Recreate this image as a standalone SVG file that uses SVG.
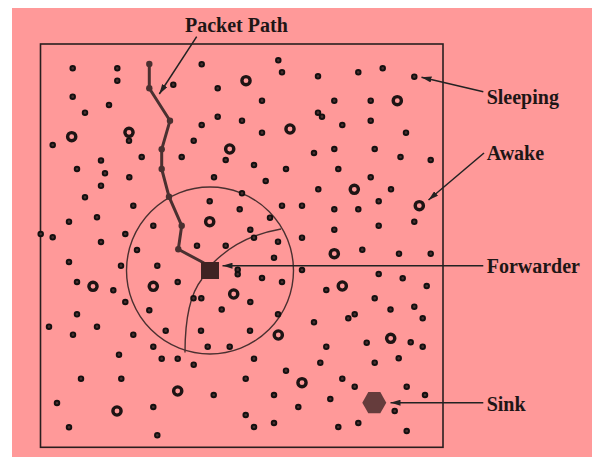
<svg xmlns="http://www.w3.org/2000/svg" width="592" height="457" viewBox="0 0 592 457">
<style>
.s{fill:#4a3030;stroke:#141010;stroke-width:1.9}
.a{fill:none;stroke:#1e1414;stroke-width:3.4}
.lbl{font-family:"Liberation Serif","Times New Roman",serif;font-weight:bold;font-size:20px;fill:#1e1616}
.ptr{stroke:#222;stroke-width:1.5;fill:none}
.pn{fill:#4a3030}
.bd{fill:none;stroke:#4a3030;stroke-width:1.4}
</style>
<defs>
<marker id="ah" viewBox="0 0 10 6" refX="10" refY="3" markerWidth="10" markerHeight="6" markerUnits="userSpaceOnUse" orient="auto">
<path d="M0,0 L10,3 L0,6 Z" fill="#222"/>
</marker>
</defs>
<rect x="0" y="0" width="592" height="457" fill="#ffffff"/>
<rect x="12" y="8" width="580" height="449" fill="#ff9999"/>
<rect x="40.5" y="44" width="402.5" height="403.3" fill="none" stroke="#2a1e1e" stroke-width="1.6"/>
<g id="range">
<circle class="bd" cx="210" cy="270.5" r="83.5"/>
<path class="bd" d="M213,263 Q240,236 281,229"/>
<path class="bd" d="M202,279 Q185,300 185,352.5"/>
</g>
<g id="connectors">
<path d="M149.3,64 L149.3,88.3 L170,120.7 L161.7,149.3 L161.7,169 L169,196.7 L181.7,225.7 L178.3,249.3 L204,263" fill="none" stroke="#4a3030" stroke-width="3" stroke-linejoin="round"/>
<circle class="pn" cx="149.3" cy="64" r="3.2"/>
<circle class="pn" cx="149.3" cy="88.3" r="3.2"/>
<circle class="pn" cx="170" cy="120.7" r="3.2"/>
<circle class="pn" cx="161.7" cy="149.3" r="3.2"/>
<circle class="pn" cx="161.7" cy="169" r="3.2"/>
<circle class="pn" cx="169" cy="196.7" r="3.2"/>
<circle class="pn" cx="181.7" cy="225.7" r="3.2"/>
<circle class="pn" cx="178.3" cy="249.3" r="3.2"/>
<line class="ptr" x1="196.7" y1="36.7" x2="159.3" y2="94" marker-end="url(#ah)"/>
<line class="ptr" x1="483.3" y1="91.7" x2="421.5" y2="77.2" marker-end="url(#ah)"/>
<line class="ptr" x1="484" y1="153" x2="428.5" y2="200" marker-end="url(#ah)"/>
<line class="ptr" x1="483.3" y1="265.7" x2="222.5" y2="265.7" marker-end="url(#ah)"/>
<line class="ptr" x1="483.3" y1="402.7" x2="390.5" y2="402.7" marker-end="url(#ah)"/>
</g>
<g id="forwarder"><rect x="201" y="262" width="18" height="17" fill="#3f2323"/></g>
<g id="sink"><polygon points="362.3,402.7 368.3,392 380.3,392 386.3,402.7 380.3,413.3 368.3,413.3" fill="#653c3c"/></g>
<g id="awake">
<g id="w1"><circle class="a" cx="71.7" cy="136.7" r="4.1"/></g>
<g id="w2"><circle class="a" cx="129" cy="132.3" r="4.1"/></g>
<g id="w3"><circle class="a" cx="246" cy="80.7" r="4.1"/></g>
<g id="w4"><circle class="a" cx="397.3" cy="100.7" r="4.1"/></g>
<g id="w5"><circle class="a" cx="290" cy="129" r="4.1"/></g>
<g id="w6"><circle class="a" cx="229.7" cy="149" r="4.1"/></g>
<g id="w7"><circle class="a" cx="354.3" cy="189.3" r="4.1"/></g>
<g id="w8"><circle class="a" cx="209.7" cy="221.7" r="4.1"/></g>
<g id="w9"><circle class="a" cx="334.3" cy="253.7" r="4.1"/></g>
<g id="w10"><circle class="a" cx="342.3" cy="286" r="4.1"/></g>
<g id="w11"><circle class="a" cx="233.7" cy="294" r="4.1"/></g>
<g id="w12"><circle class="a" cx="419.3" cy="205.7" r="4.1"/></g>
<g id="w13"><circle class="a" cx="93" cy="286.3" r="4.1"/></g>
<g id="w14"><circle class="a" cx="153.3" cy="286.3" r="4.1"/></g>
<g id="w15"><circle class="a" cx="177.7" cy="391" r="4.1"/></g>
<g id="w16"><circle class="a" cx="117" cy="411" r="4.1"/></g>
<g id="w17"><circle class="a" cx="278.3" cy="335" r="4.1"/></g>
<g id="w18"><circle class="a" cx="390.7" cy="338.3" r="4.1"/></g>
<g id="w19"><circle class="a" cx="302" cy="382.7" r="4.1"/></g>
</g>
<g id="sleeping">
<g id="s0"><circle class="s" cx="414.3" cy="76.7" r="2.3"/></g>
<g id="s1"><circle class="s" cx="72.7" cy="68.3" r="2.3"/></g>
<g id="s2"><circle class="s" cx="117.3" cy="68.3" r="2.3"/></g>
<g id="s3"><circle class="s" cx="117.3" cy="80.7" r="2.3"/></g>
<g id="s4"><circle class="s" cx="72.7" cy="96.7" r="2.3"/></g>
<g id="s5"><circle class="s" cx="109" cy="105" r="2.3"/></g>
<g id="s6"><circle class="s" cx="85" cy="112.7" r="2.3"/></g>
<g id="s7"><circle class="s" cx="52.7" cy="145" r="2.3"/></g>
<g id="s8"><circle class="s" cx="129" cy="140.7" r="2.3"/></g>
<g id="s9"><circle class="s" cx="173.3" cy="84.7" r="2.3"/></g>
<g id="s10"><circle class="s" cx="193.7" cy="140.7" r="2.3"/></g>
<g id="s11"><circle class="s" cx="141.7" cy="157" r="2.3"/></g>
<g id="s12"><circle class="s" cx="181.7" cy="157" r="2.3"/></g>
<g id="s13"><circle class="s" cx="101" cy="160.5" r="2.3"/></g>
<g id="s14"><circle class="s" cx="201.7" cy="64.3" r="2.3"/></g>
<g id="s15"><circle class="s" cx="278.3" cy="60.3" r="2.3"/></g>
<g id="s16"><circle class="s" cx="282" cy="72.3" r="2.3"/></g>
<g id="s17"><circle class="s" cx="217.7" cy="88.3" r="2.3"/></g>
<g id="s18"><circle class="s" cx="318" cy="76.3" r="2.3"/></g>
<g id="s19"><circle class="s" cx="358.3" cy="72.3" r="2.3"/></g>
<g id="s20"><circle class="s" cx="382.7" cy="68.3" r="2.3"/></g>
<g id="s21"><circle class="s" cx="262" cy="100.7" r="2.3"/></g>
<g id="s22"><circle class="s" cx="334.3" cy="100.7" r="2.3"/></g>
<g id="s23"><circle class="s" cx="370.7" cy="100.7" r="2.3"/></g>
<g id="s24"><circle class="s" cx="217.7" cy="116.7" r="2.3"/></g>
<g id="s25"><circle class="s" cx="201.7" cy="125" r="2.3"/></g>
<g id="s26"><circle class="s" cx="242" cy="120.7" r="2.3"/></g>
<g id="s27"><circle class="s" cx="318" cy="112.7" r="2.3"/></g>
<g id="s28"><circle class="s" cx="322" cy="116.7" r="2.3"/></g>
<g id="s29"><circle class="s" cx="342.3" cy="125" r="2.3"/></g>
<g id="s30"><circle class="s" cx="370.7" cy="120.7" r="2.3"/></g>
<g id="s31"><circle class="s" cx="262" cy="132.7" r="2.3"/></g>
<g id="s32"><circle class="s" cx="314" cy="153" r="2.3"/></g>
<g id="s33"><circle class="s" cx="334.3" cy="149" r="2.3"/></g>
<g id="s34"><circle class="s" cx="374.7" cy="149" r="2.3"/></g>
<g id="s35"><circle class="s" cx="225.7" cy="160" r="2.3"/></g>
<g id="s36"><circle class="s" cx="406" cy="132.7" r="2.3"/></g>
<g id="s37"><circle class="s" cx="400.5" cy="157" r="2.3"/></g>
<g id="s38"><circle class="s" cx="430.7" cy="160" r="2.3"/></g>
<g id="s39"><circle class="s" cx="40.7" cy="234" r="2.3"/></g>
<g id="s40"><circle class="s" cx="52.7" cy="237.3" r="2.3"/></g>
<g id="s41"><circle class="s" cx="77" cy="169" r="2.3"/></g>
<g id="s43"><circle class="s" cx="105" cy="173.3" r="2.3"/></g>
<g id="s44"><circle class="s" cx="101" cy="185.7" r="2.3"/></g>
<g id="s45"><circle class="s" cx="129.3" cy="177.3" r="2.3"/></g>
<g id="s46"><circle class="s" cx="85" cy="197.3" r="2.3"/></g>
<g id="s47"><circle class="s" cx="133.3" cy="205.7" r="2.3"/></g>
<g id="s48"><circle class="s" cx="69" cy="221.7" r="2.3"/></g>
<g id="s49"><circle class="s" cx="97" cy="217.3" r="2.3"/></g>
<g id="s50"><circle class="s" cx="125.3" cy="234" r="2.3"/></g>
<g id="s51"><circle class="s" cx="153.3" cy="225.7" r="2.3"/></g>
<g id="s52"><circle class="s" cx="101" cy="242" r="2.3"/></g>
<g id="s53"><circle class="s" cx="137" cy="250" r="2.3"/></g>
<g id="s54"><circle class="s" cx="69" cy="262" r="2.3"/></g>
<g id="s55"><circle class="s" cx="121" cy="265.7" r="2.3"/></g>
<g id="s56"><circle class="s" cx="157.3" cy="265.7" r="2.3"/></g>
<g id="s57"><circle class="s" cx="77" cy="282" r="2.3"/></g>
<g id="s58"><circle class="s" cx="113.3" cy="290.3" r="2.3"/></g>
<g id="s59"><circle class="s" cx="177.7" cy="282" r="2.3"/></g>
<g id="s60"><circle class="s" cx="125.3" cy="302" r="2.3"/></g>
<g id="s61"><circle class="s" cx="193.5" cy="298.3" r="2.3"/></g>
<g id="s62"><circle class="s" cx="201.3" cy="298.3" r="2.3"/></g>
<g id="s63"><circle class="s" cx="197" cy="245.7" r="2.3"/></g>
<g id="s64"><circle class="s" cx="254" cy="165" r="2.3"/></g>
<g id="s65"><circle class="s" cx="286" cy="169" r="2.3"/></g>
<g id="s66"><circle class="s" cx="338.3" cy="169" r="2.3"/></g>
<g id="s67"><circle class="s" cx="214" cy="177.3" r="2.3"/></g>
<g id="s68"><circle class="s" cx="265.7" cy="181" r="2.3"/></g>
<g id="s69"><circle class="s" cx="370.7" cy="177.3" r="2.3"/></g>
<g id="s70"><circle class="s" cx="318.3" cy="189.3" r="2.3"/></g>
<g id="s71"><circle class="s" cx="391" cy="189.3" r="2.3"/></g>
<g id="s72"><circle class="s" cx="209.7" cy="201.3" r="2.3"/></g>
<g id="s73"><circle class="s" cx="242" cy="193.3" r="2.3"/></g>
<g id="s74"><circle class="s" cx="239.7" cy="209.3" r="2.3"/></g>
<g id="s75"><circle class="s" cx="282" cy="205.7" r="2.3"/></g>
<g id="s76"><circle class="s" cx="302" cy="205.7" r="2.3"/></g>
<g id="s77"><circle class="s" cx="334.3" cy="209.3" r="2.3"/></g>
<g id="s78"><circle class="s" cx="358.3" cy="209.3" r="2.3"/></g>
<g id="s79"><circle class="s" cx="378.7" cy="201.3" r="2.3"/></g>
<g id="s80"><circle class="s" cx="270" cy="217.7" r="2.3"/></g>
<g id="s81"><circle class="s" cx="250.3" cy="229.7" r="2.3"/></g>
<g id="s82"><circle class="s" cx="254" cy="237.7" r="2.3"/></g>
<g id="s83"><circle class="s" cx="334.3" cy="229.7" r="2.3"/></g>
<g id="s84"><circle class="s" cx="378.7" cy="225.7" r="2.3"/></g>
<g id="s85"><circle class="s" cx="302" cy="237.7" r="2.3"/></g>
<g id="s86"><circle class="s" cx="225.7" cy="245.7" r="2.3"/></g>
<g id="s87"><circle class="s" cx="278" cy="241.7" r="2.3"/></g>
<g id="s88"><circle class="s" cx="362.3" cy="249.7" r="2.3"/></g>
<g id="s89"><circle class="s" cx="274" cy="257.7" r="2.3"/></g>
<g id="s90"><circle class="s" cx="237.7" cy="269.7" r="2.3"/></g>
<g id="s91"><circle class="s" cx="237.7" cy="274.3" r="2.3"/></g>
<g id="s92"><circle class="s" cx="302" cy="270" r="2.3"/></g>
<g id="s93"><circle class="s" cx="378.7" cy="274" r="2.3"/></g>
<g id="s94"><circle class="s" cx="262" cy="278" r="2.3"/></g>
<g id="s95"><circle class="s" cx="282" cy="282" r="2.3"/></g>
<g id="s96"><circle class="s" cx="326.3" cy="290" r="2.3"/></g>
<g id="s97"><circle class="s" cx="374.7" cy="298.3" r="2.3"/></g>
<g id="s98"><circle class="s" cx="250.3" cy="302" r="2.3"/></g>
<g id="s99"><circle class="s" cx="221.7" cy="309.5" r="2.3"/></g>
<g id="s100"><circle class="s" cx="390.5" cy="309.5" r="2.3"/></g>
<g id="s102"><circle class="s" cx="414.3" cy="221.7" r="2.3"/></g>
<g id="s103"><circle class="s" cx="399" cy="253.7" r="2.3"/></g>
<g id="s104"><circle class="s" cx="430.7" cy="253.7" r="2.3"/></g>
<g id="s105"><circle class="s" cx="402.7" cy="278.3" r="2.3"/></g>
<g id="s106"><circle class="s" cx="426.7" cy="286" r="2.3"/></g>
<g id="s107"><circle class="s" cx="414.3" cy="306.7" r="2.3"/></g>
<g id="s108"><circle class="s" cx="77" cy="314.3" r="2.3"/></g>
<g id="s109"><circle class="s" cx="49" cy="326.7" r="2.3"/></g>
<g id="s110"><circle class="s" cx="73" cy="334.7" r="2.3"/></g>
<g id="s111"><circle class="s" cx="97" cy="326.7" r="2.3"/></g>
<g id="s112"><circle class="s" cx="133.3" cy="334.7" r="2.3"/></g>
<g id="s113"><circle class="s" cx="149.3" cy="310.3" r="2.3"/></g>
<g id="s114"><circle class="s" cx="165.7" cy="330.7" r="2.3"/></g>
<g id="s115"><circle class="s" cx="201" cy="330.7" r="2.3"/></g>
<g id="s116"><circle class="s" cx="153.3" cy="346.7" r="2.3"/></g>
<g id="s117"><circle class="s" cx="119" cy="354.7" r="2.3"/></g>
<g id="s118"><circle class="s" cx="161.7" cy="358.7" r="2.3"/></g>
<g id="s119"><circle class="s" cx="177.7" cy="358.7" r="2.3"/></g>
<g id="s120"><circle class="s" cx="193.7" cy="364.7" r="2.3"/></g>
<g id="s121"><circle class="s" cx="81" cy="378.7" r="2.3"/></g>
<g id="s122"><circle class="s" cx="121.3" cy="378.7" r="2.3"/></g>
<g id="s123"><circle class="s" cx="57" cy="403" r="2.3"/></g>
<g id="s124"><circle class="s" cx="153.3" cy="407" r="2.3"/></g>
<g id="s125"><circle class="s" cx="69" cy="427.3" r="2.3"/></g>
<g id="s126"><circle class="s" cx="157.3" cy="435.3" r="2.3"/></g>
<g id="s127"><circle class="s" cx="278" cy="314.3" r="2.3"/></g>
<g id="s128"><circle class="s" cx="250" cy="330.7" r="2.3"/></g>
<g id="s129"><circle class="s" cx="207.7" cy="346.7" r="2.3"/></g>
<g id="s130"><circle class="s" cx="229.7" cy="346.7" r="2.3"/></g>
<g id="s131"><circle class="s" cx="314" cy="322.3" r="2.3"/></g>
<g id="s132"><circle class="s" cx="348.3" cy="318.3" r="2.3"/></g>
<g id="s133"><circle class="s" cx="354.7" cy="314.3" r="2.3"/></g>
<g id="s134"><circle class="s" cx="366.7" cy="342.7" r="2.3"/></g>
<g id="s135"><circle class="s" cx="326.3" cy="346.7" r="2.3"/></g>
<g id="s136"><circle class="s" cx="254" cy="358.7" r="2.3"/></g>
<g id="s137"><circle class="s" cx="320.3" cy="362.7" r="2.3"/></g>
<g id="s138"><circle class="s" cx="374.7" cy="362.7" r="2.3"/></g>
<g id="s139"><circle class="s" cx="286" cy="370.7" r="2.3"/></g>
<g id="s140"><circle class="s" cx="245.7" cy="378.7" r="2.3"/></g>
<g id="s141"><circle class="s" cx="342.3" cy="378.7" r="2.3"/></g>
<g id="s142"><circle class="s" cx="354.7" cy="386.7" r="2.3"/></g>
<g id="s143"><circle class="s" cx="213.7" cy="395" r="2.3"/></g>
<g id="s144"><circle class="s" cx="274" cy="395" r="2.3"/></g>
<g id="s145"><circle class="s" cx="330.3" cy="399" r="2.3"/></g>
<g id="s146"><circle class="s" cx="298.3" cy="407" r="2.3"/></g>
<g id="s147"><circle class="s" cx="245.7" cy="415" r="2.3"/></g>
<g id="s148"><circle class="s" cx="254" cy="427" r="2.3"/></g>
<g id="s149"><circle class="s" cx="274" cy="423" r="2.3"/></g>
<g id="s150"><circle class="s" cx="338.3" cy="427" r="2.3"/></g>
<g id="s151"><circle class="s" cx="358.3" cy="423" r="2.3"/></g>
<g id="s152"><circle class="s" cx="422.7" cy="318.3" r="2.3"/></g>
<g id="s153"><circle class="s" cx="410.7" cy="342.3" r="2.3"/></g>
<g id="s154"><circle class="s" cx="422.7" cy="346.7" r="2.3"/></g>
<g id="s155"><circle class="s" cx="398.7" cy="358.3" r="2.3"/></g>
<g id="s156"><circle class="s" cx="406.7" cy="386.7" r="2.3"/></g>
<g id="s157"><circle class="s" cx="425" cy="395" r="2.3"/></g>
<g id="s158"><circle class="s" cx="394.7" cy="411" r="2.3"/></g>
<g id="s159"><circle class="s" cx="406.7" cy="431" r="2.3"/></g>
</g>
<g id="labels">
<text class="lbl" x="185" y="32.3">Packet Path</text>
<text class="lbl" x="486.7" y="104">Sleeping</text>
<text class="lbl" x="486.7" y="160">Awake</text>
<text class="lbl" x="486.7" y="273.3">Forwarder</text>
<text class="lbl" x="486.7" y="411">Sink</text>
</g>
</svg>
